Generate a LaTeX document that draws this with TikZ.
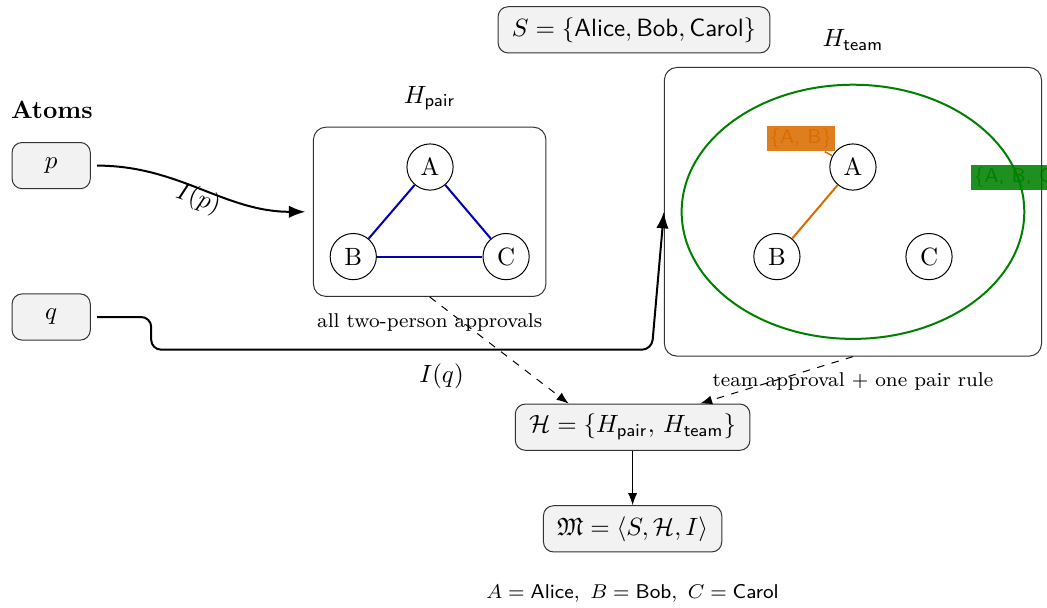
\documentclass[tikz,border=0pt]{standalone}
\usepackage{amsmath,amssymb}
\usetikzlibrary{arrows.meta,fit,shapes.geometric}

\definecolor{pairblue}{rgb}{0,0,0.7}
\definecolor{teamgreen}{rgb}{0,0.5,0}
\definecolor{pairorange}{rgb}{0.85,0.425,0}

\begin{document}
\begin{tikzpicture}[
  vtx/.style={draw, circle, fill=white, minimum size=0.65cm, inner sep=1pt},
  box/.style={draw=black!80, fill=gray!10, rounded corners=4pt, minimum height=0.65cm, inner xsep=5.5pt},
  frame/.style={draw=black!80, rounded corners=5pt, inner sep=6.5pt},
  flow/.style={draw, thick, -{Latex}, shorten <=2.5pt},
  dep/.style={draw, dashed, -{Latex}},
  tag/.style={font=\sffamily\footnotesize, inner sep=1pt, fill opacity=0.88, text opacity=1},
  desc/.style={label distance=3pt, font=\footnotesize},
]
\useasboundingbox (0,0) rectangle (14.73,8.55);

\node[font=\bfseries] (atoms) at (0.73,7.0) {Atoms};
\node[box, minimum width=1.1cm] (p) at (0.72,6.22) {$p$};
\node[box, minimum width=1.1cm] (q) at (0.72,4.09) {$q$};

\node[box] (S) at (8.92,8.13) {$S = \{\textsf{Alice}, \textsf{Bob}, \textsf{Carol}\}$};

% pair graph
\node[vtx] (pA) at (6.05,6.2) {A};
\node[vtx] (pB) at (4.97,4.94) {B};
\node[vtx] (pC) at (7.12,4.94) {C};
\path[draw, thick, pairblue] (pA) -- (pB);
\path[draw, thick, pairblue] (pA) -- (pC);
\path[draw, thick, pairblue] (pB) -- (pC);
\node[frame, fit=(pA)(pB)(pC),
  label={[label distance=3pt]above:$H_{\mathsf{pair}}$},
  label={[desc]below:all two-person approvals}] (Hpair) {};

% team graph
\node[vtx] (tA) at (12,6.2) {A};
\node[vtx] (tB) at (10.93,4.94) {B};
\node[vtx] (tC) at (13.07,4.94) {C};
\path[draw, thick, pairorange] (tA) -- (tB);
\node[tag, fill=pairorange, text=pairorange, anchor=south east] (tAB) at ([shift={(-0.5pt,-0.5pt)}]tA.north west) {\{A, B\}};
\path[draw, semithick, pairorange] (tA) -- (tAB);
\node[draw=teamgreen, thick, ellipse, fit=(tA)(tB)(tC), inner sep=8.6pt] (ell) {};
\node[tag, fill=teamgreen, text=teamgreen, anchor=west] (tABC) at (13.66,6.05) {\{A, B, C\}};
\node[frame, fit=(ell),
  label={[label distance=3pt]above:$H_{\mathsf{team}}$},
  label={[desc]below:team approval $+$ one pair rule}] (Hteam) {};

\node[box] (Hbox) at (8.9,2.54) {$\mathcal{H} = \{H_{\mathsf{pair}},\, H_{\mathsf{team}}\}$};
\node[box] (M) at (8.9,1.11) {$\mathfrak{M} = \langle S, \mathcal{H}, I\rangle$};
\node[font=\footnotesize] (legend) at (8.9,0.2) {$A=\textsf{Alice},\ B=\textsf{Bob},\ C=\textsf{Carol}$};

\coordinate (qbend) at (9.17,3.63);

\path[flow, shorten >=3pt] (p.east) to[out=0, in=180]
  node[sloped, below=-1pt, inner sep=0pt] {$I(p)$} (Hpair.west);
\path[flow, rounded corners=4pt] (q.east) -- ++(0.85,0) |-
  node[pos=0.79, below=2pt] {$I(q)$} (qbend) -- (Hteam.west);

\path[dep] (Hpair.south) -- ([xshift=-0.9cm]Hbox.north);
\path[dep] (Hteam.south) -- ([xshift=0.95cm]Hbox.north);
\path[draw, -{Latex}] (Hbox) -- (M);
\end{tikzpicture}
\end{document}
